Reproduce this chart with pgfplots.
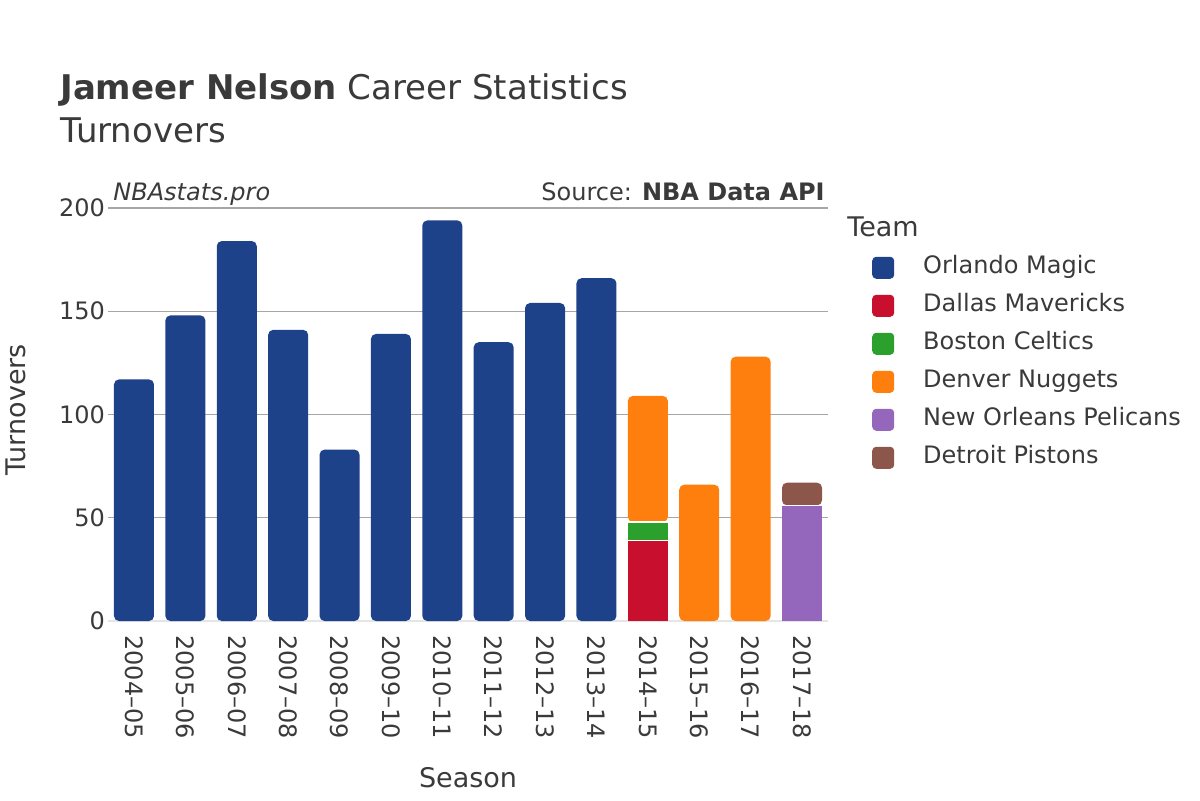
\documentclass[border=0pt]{standalone}
\usepackage{pgfplots}
\usepackage{pgfplotstable}
\pgfplotsset{compat=1.18}
\usepackage{fontspec}
\setmainfont{DejaVu Sans}

\definecolor{txt}{HTML}{3A3A3A}
\definecolor{orl}{HTML}{1D428A}
\definecolor{dal}{HTML}{C8102E}
\definecolor{bos}{HTML}{2CA02C}
\definecolor{den}{HTML}{FF7F0E}
\definecolor{nop}{HTML}{9467BD}
\definecolor{det}{HTML}{8C564B}

% turnovers per season and team (0 = did not play for that team)
\pgfplotstableread{
x orl dal bos den nop det
0 117 0 0 0 0 0
1 148 0 0 0 0 0
2 184 0 0 0 0 0
3 141 0 0 0 0 0
4 83 0 0 0 0 0
5 139 0 0 0 0 0
6 194 0 0 0 0 0
7 135 0 0 0 0 0
8 154 0 0 0 0 0
9 166 0 0 0 0 0
10 0 39 9 61 0 0
11 0 0 0 66 0 0
12 0 0 0 128 0 0
13 0 0 0 0 56 11
}\turnovers

\begin{document}
\begin{tikzpicture}[font=\color{txt}, every node/.style={inner sep=0pt}]
\path[use as bounding box] (0,0) rectangle (600pt,400pt);

\node[anchor=base west, font=\fontsize{17}{20}\selectfont\color{txt}] at (30pt,350pt)
  {\textbf{Jameer Nelson} Career Statistics};
\node[anchor=base west, font=\fontsize{17}{20}\selectfont\color{txt}] at (30pt,328.5pt) {Turnovers};
\node[anchor=base west, font=\fontsize{12}{14}\selectfont\itshape\color{txt}] at (56.5pt,300pt) {NBAstats.pro};
\node[anchor=base east, font=\fontsize{12}{14}\selectfont\color{txt}] at (412.5pt,300pt) {Source: \textbf{NBA Data API}};
\node[anchor=base west, font=\fontsize{13.5}{16}\selectfont\color{txt}] at (423.5pt,282pt) {Team};

\pgfplotsset{
  base/.style={
    at={(54.15pt,89.5pt)}, anchor=south west,
    scale only axis, width=359.7pt, height=206.5pt,
    xmin=-0.5, xmax=13.5, ymin=0, ymax=200,
  },
}

\begin{axis}[
  base,
  ybar stacked, bar width=20pt,
  axis x line*=bottom, axis y line*=left,
  x axis line style={draw=black!10, line width=1.2pt},
  y axis line style={draw=none},
  xtick={0,...,13},
  xticklabels={2004–05,2005–06,2006–07,2007–08,2008–09,2009–10,2010–11,2011–12,2012–13,2013–14,2014–15,2015–16,2016–17,2017–18},
  ytick={0,50,100,150,200},
  ymajorgrids, grid style={draw=black!35, line width=0.6pt},
  major tick length=0pt,
  tick label style={font=\fontsize{12}{14}\selectfont\color{txt}},
  /pgf/number format/assume math mode=true,
  xticklabel style={rotate=-90, anchor=west, xshift=7pt},
  yticklabel style={anchor=east, xshift=-1.5pt},
  ylabel={Turnovers}, xlabel={Season},
  label style={font=\fontsize{13.5}{16}\selectfont\color{txt}},
  ylabel style={at={(axis description cs:-0.128,0.511)}, anchor=center, rotate=0},
  xlabel style={at={(axis description cs:0.5,-0.38)}, anchor=center},
  legend cell align=left,
  legend image code/.code={\fill[#1, rounded corners=2pt] (0pt,-5.5pt) rectangle (11pt,5.5pt);},
  legend style={at={(axis description cs:1.053,0.895)}, anchor=north west, draw=none, fill=none,
    font=\fontsize{12}{14}\selectfont\color{txt}, row sep=7pt,
    nodes={inner sep=0pt, text height=9pt, text depth=3pt},
    /tikz/every odd column/.append style={column sep=14.5pt}},
]
\addplot[fill=orl, draw=none, rounded corners=2.5pt] table[x=x, y=orl] {\turnovers};
\addlegendentry{Orlando Magic}
\addplot[fill=dal, draw=none] table[x=x, y=dal] {\turnovers};
\addlegendentry{Dallas Mavericks}
\addplot[fill=bos, draw=none] table[x=x, y=bos] {\turnovers};
\addlegendentry{Boston Celtics}
\addplot[fill=den, draw=none, rounded corners=2.5pt] table[x=x, y=den] {\turnovers};
\addlegendentry{Denver Nuggets}
\addplot[fill=nop, draw=none] table[x=x, y=nop] {\turnovers};
\addlegendentry{New Orleans Pelicans}
\addplot[fill=det, draw=none, rounded corners=2.5pt] table[x=x, y=det] {\turnovers};
\addlegendentry{Detroit Pistons}
\end{axis}

% thin white borders between stacked segments
\begin{axis}[base, hide axis]
\addplot[only marks, mark=-, mark size=10pt, mark options={draw=white, line width=0.8pt}]
  coordinates {(10,39) (10,48) (13,56)};
\end{axis}
\end{tikzpicture}
\end{document}
